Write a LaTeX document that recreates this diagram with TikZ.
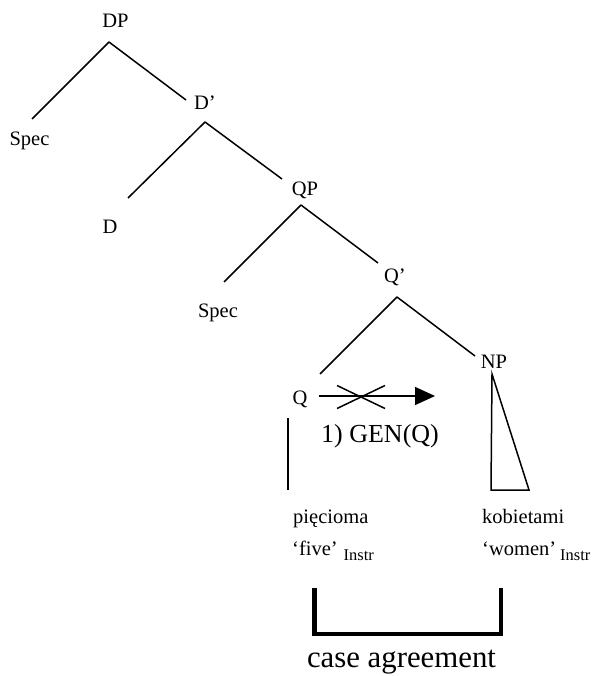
\documentclass[tikz,border=0pt]{standalone}
\usepackage{fontspec}
\setmainfont{Liberation Serif}
\usetikzlibrary{arrows.meta}
\tikzset{
  lab/.style={inner sep=0pt, anchor=base, font=\fontsize{20.5}{24}\selectfont},
  word/.style={inner sep=0pt, anchor=base west, font=\fontsize{20.5}{24}\selectfont},
  branch/.style={line width=1.5pt},
  bracket/.style={line width=4.6pt, line join=miter},
}
\newcommand{\instrsub}{\raisebox{-5pt}{\fontsize{16.4}{18}\selectfont Instr}}
\begin{document}
\begin{tikzpicture}[x=1pt,y=-1pt]
\useasboundingbox (0,0) rectangle (595,676);
% tree labels
\node[lab] (DP) at (115.5,28) {DP};
\node[lab] (Spec1) at (29.5,145.5) {Spec};
\node[lab] (Dbar) at (205,110) {D’};
\node[lab] (D) at (110,233) {D};
\node[lab] (QP) at (305,196) {QP};
\node[lab] (Spec2) at (218,317) {Spec};
\node[lab] (Qbar) at (395,282) {Q’};
\node[lab] (Q) at (300,404) {Q};
\node[lab] (NP) at (494,368) {NP};
% branches
\draw[branch] ([shift={(-6.5,14)}]DP.base) -- ([shift={(2.5,-26.5)}]Spec1.base);
\draw[branch] ([shift={(-6.5,14)}]DP.base) -- ([shift={(-19,-10)}]Dbar.base);
\draw[branch] ([shift={(0,12)}]Dbar.base) -- ([shift={(18,-35)}]D.base);
\draw[branch] ([shift={(0,12)}]Dbar.base) -- ([shift={(-23,-17)}]QP.base);
\draw[branch] ([shift={(-4,9)}]QP.base) -- ([shift={(6,-35)}]Spec2.base);
\draw[branch] ([shift={(-4,9)}]QP.base) -- ([shift={(-17,-19)}]Qbar.base);
\draw[branch] ([shift={(2,15)}]Qbar.base) -- ([shift={(20,-30)}]Q.base);
\draw[branch] ([shift={(2,15)}]Qbar.base) -- ([shift={(-19,-12)}]NP.base);
% Q vertical line
\draw[branch] ([shift={(-12,14)}]Q.base) -- ([shift={(-12,86)}]Q.base);
% NP triangle
\draw[branch] ([shift={(-2,6)}]NP.base) -- ([shift={(-3,122)}]NP.base) -- ([shift={(35,122)}]NP.base) -- cycle;
% blocked arrow
\coordinate (arrEnd) at (435,396);
\coordinate (X) at (361,396.5);
\draw[branch, -{Triangle[length=20pt,width=18pt]}] ([shift={(19,-8)}]Q.base) -- (arrEnd);
\draw[branch] ([shift={(-24,-11)}]X) -- ([shift={(24,12)}]X);
\draw[branch] ([shift={(-24,12)}]X) -- ([shift={(24,-11)}]X);
\node[inner sep=0pt, anchor=base, font=\fontsize{26}{30}\selectfont] (gen) at (380,442) {1) GEN(Q)};
% words
\node[word] (w1) at (293,523) {pięcioma};
\node[word] (w2) at (482,523) {kobietami};
\node[word] (g1) at (292,555) {‘five’\hspace{6pt}\instrsub};
\node[word] (g2) at (482,555) {‘women’\hspace{4pt}\instrsub};
% case agreement bracket
\coordinate (bl) at (314.5,588);
\coordinate (br) at (501,588);
\draw[bracket] (bl) -- ++(0,46) -| (br);
\node[inner sep=0pt, anchor=base, font=\fontsize{30.8}{36}\selectfont] (ca) at (401.5,667) {case agreement};
\end{tikzpicture}
\end{document}
